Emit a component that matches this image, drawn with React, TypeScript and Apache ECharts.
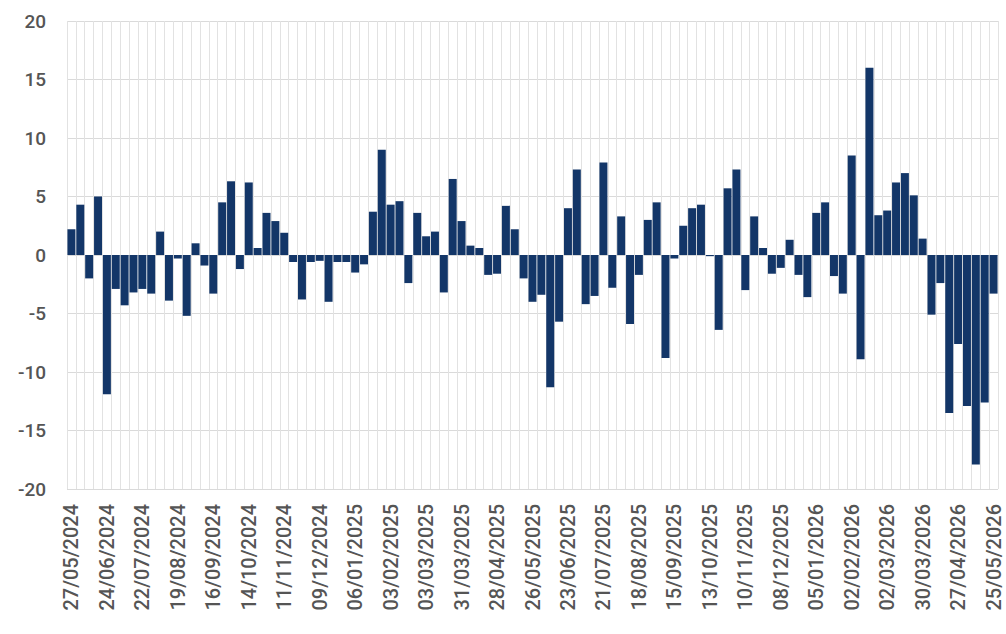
import React, { useEffect, useRef } from "react";
import * as echarts from "echarts";

const START_DATE = "2024-05-27";
const WEEK_COUNT = 105;

function buildWeeks(start: string, n: number): string[] {
  const out: string[] = [];
  const d0 = new Date(start + "T12:00:00Z");
  for (let i = 0; i < n; i++) {
    const d = new Date(d0.getTime() + i * 7 * 86400000);
    const dd = String(d.getUTCDate()).padStart(2, "0");
    const mm = String(d.getUTCMonth() + 1).padStart(2, "0");
    out.push(`${dd}/${mm}/${d.getUTCFullYear()}`);
  }
  return out;
}

const categories: string[] = buildWeeks(START_DATE, WEEK_COUNT);

const values2024: number[] = [
  2.2, 4.3, -2.0, 5.0, -11.9, -2.9, -4.3, -3.2, -2.9, -3.3, 2.0, -3.9,
  -0.3, -5.2, 1.0, -0.9, -3.3, 4.5, 6.3, -1.2, 6.2, 0.6, 3.6, 2.9, 1.9,
  -0.6, -3.8, -0.6, -0.5, -4.0,
];
const values2025: number[] = [
  -0.6, -0.6, -1.5, -0.8, 3.7, 9.0, 4.3, 4.6, -2.4, 3.6, 1.6, 2.0, -3.2,
  6.5, 2.9, 0.8, 0.6, -1.7, -1.6, 4.2, 2.2, -2.0, -4.0, -3.4, -11.3, -5.7,
  4.0, 7.3, -4.2, -3.5, 7.9, -2.8, 3.3, -5.9, -1.7, 3.0, 4.5, -8.8, -0.3,
  2.5, 4.0, 4.3, -0.1, -6.4, 5.7, 7.3, -3.0, 3.3, 0.6, -1.6, -1.1, 1.3,
  -1.7, -3.6,
];
const values2026: number[] = [
  3.6, 4.5, -1.8, -3.3, 8.5, -8.9, 16.0, 3.4, 3.8, 6.2, 7.0, 5.1, 1.4,
  -5.1, -2.4, -13.5, -7.6, -12.9, -17.9, -12.6, -3.3,
];

const values: number[] = [...values2024, ...values2025, ...values2026];

const yTicks = { min: -20, max: 20, interval: 5 };
const BAR_COLOR = "#133668";

export default function App() {
  const ref = useRef<HTMLDivElement>(null);
  useEffect(() => {
    if (!ref.current) return;
    const chart = echarts.init(ref.current, undefined, { renderer: "svg" });
    chart.setOption({
      animation: false,
      backgroundColor: "#ffffff",
      grid: { left: 67, right: 8, top: 21, bottom: 145, containLabel: false },
      xAxis: {
        type: "category",
        data: categories,
        boundaryGap: true,
        axisLine: { show: false, onZero: false },
        axisTick: { show: false },
        axisLabel: {
          interval: 3,
          rotate: 90,
          margin: 15,
          color: "#555",
          fontFamily: "Roboto",
          fontSize: 20,
          fontWeight: 500,
        },
        splitLine: {
          show: true,
          interval: 0,
          lineStyle: { color: "#e2e2e2", width: 1 },
        },
      },
      yAxis: {
        type: "value",
        min: yTicks.min,
        max: yTicks.max,
        interval: yTicks.interval,
        axisLine: { show: false },
        axisTick: { show: false },
        axisLabel: {
          margin: 21,
          color: "#555",
          fontFamily: "Roboto",
          fontSize: 19,
          fontWeight: 500,
        },
        splitLine: { show: true, lineStyle: { color: "#dadada", width: 1 } },
      },
      series: [
        {
          type: "bar",
          data: values,
          barCategoryGap: "10%",
          itemStyle: { color: BAR_COLOR },
        },
      ],
    });
    return () => chart.dispose();
  }, []);
  return (
    <div
      ref={ref}
      style={{ position: "fixed", left: 0, top: 0, width: 1006, height: 634 }}
    />
  );
}
